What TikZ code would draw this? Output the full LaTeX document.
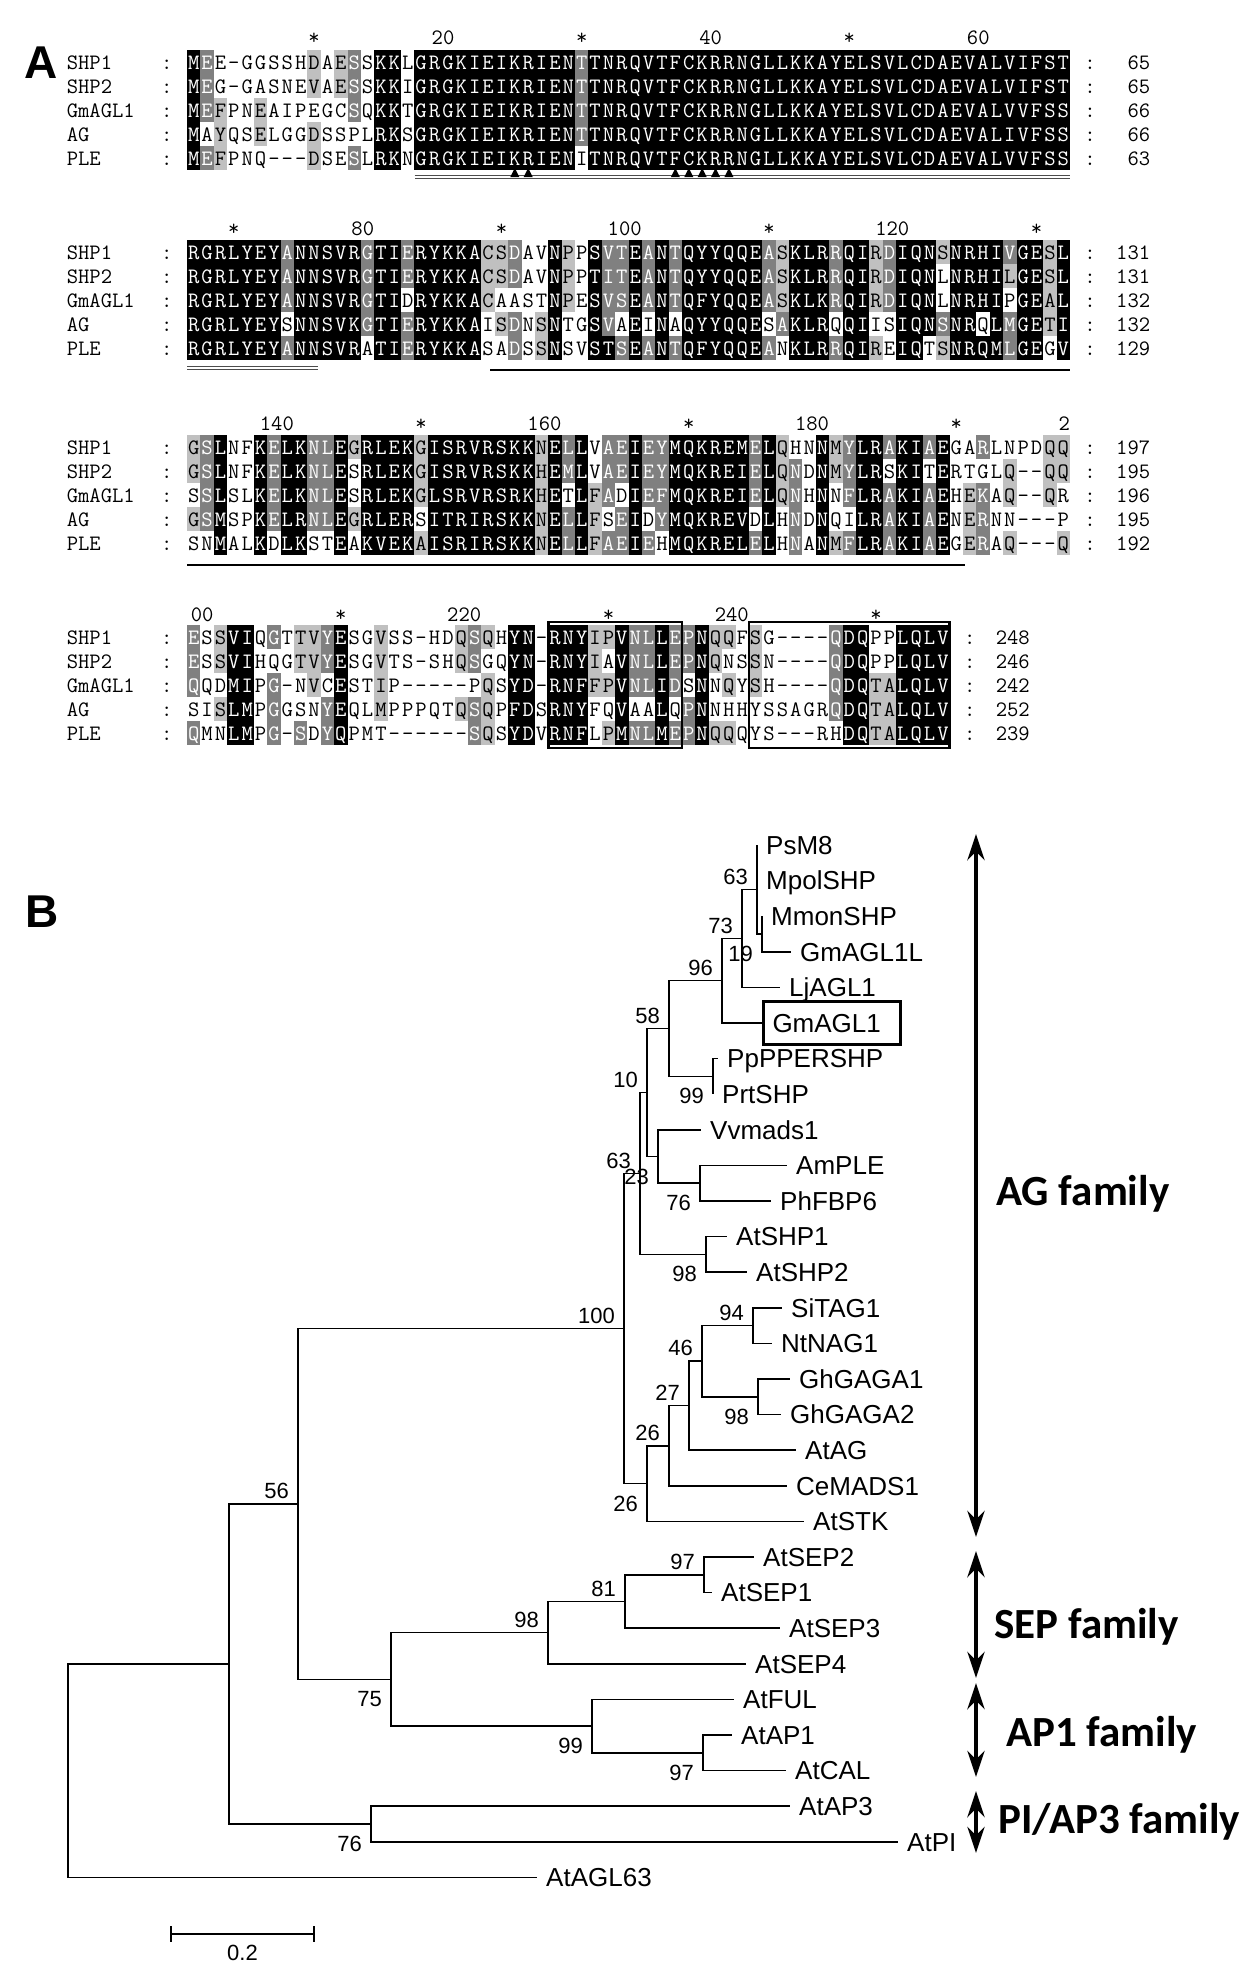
\documentclass[tikz,border=0pt]{standalone}
\usepackage{fontspec}
\newfontfamily\treefont{Liberation Sans}
\newfontfamily\famfont{Carlito}
\usetikzlibrary{arrows.meta,calc}
\definecolor{dgray}{RGB}{128,128,128}
\definecolor{lgray}{RGB}{192,192,192}

\tikzset{
  alntxt/.style={font=\ttfamily\fontsize{22}{22}\selectfont, inner sep=0pt, text height=14pt, text depth=0pt},
  res/.style={alntxt},
  resk/.style={text=white}, resd/.style={text=white},
  resl/.style={text=black}, resw/.style={text=black},
  shk/.style={fill=black}, shd/.style={fill=dgray}, shl/.style={fill=lgray}, shw/.style={},
  branch/.style={line width=1.5pt},
  leaf/.style={anchor=west, font=\treefont\fontsize{26}{26}\selectfont, inner xsep=9pt, inner ysep=0pt, text height=18.6pt, text depth=0pt},
  bsa/.style={anchor=south east, inner sep=0pt, xshift=-9pt, yshift=5pt, font=\treefont\fontsize{22}{22}\selectfont},
  bsb/.style={anchor=north east, inner sep=0pt, xshift=-9pt, yshift=-12pt, font=\treefont\fontsize{22}{22}\selectfont},
  family/.style={anchor=base west, inner sep=0pt, font=\famfont\bfseries\fontsize{43}{43}\selectfont},
  famarrow/.style={line width=4.5pt, {Stealth[length=26pt,width=17pt]}-{Stealth[length=26pt,width=17pt]}},
  panel/.style={inner sep=0pt, font=\treefont\bfseries\fontsize{46}{46}\selectfont}
}

% one alignment row: y, name, residues, shading (k d l w), columns, count
\newcount\rescol
\def\alnstep#1#2\relax#3#4\relax{%
  \path[sh#3] ({187+\the\rescol*13.38},\alny-12) rectangle ++(13.38,24);%
  \node[res, res#3] at ({187+(\the\rescol+0.5)*13.38},\alny) {#1};%
  \global\advance\rescol by 1
  \if\relax\detokenize{#2}\relax\else\alnstep#2\relax#4\relax\fi}
\newcommand\alnrow[6]{%
  \node[alntxt, anchor=west] at (66.6,#1) {#2};
  \node[alntxt] at (166.9,#1) {:};
  \node[alntxt] at ({187+(#5+1.5)*13.38},#1) {:};
  \node[alntxt, anchor=east] at ({187+(#5+6)*13.38},#1) {#6};
  \global\rescol=0
  \def\alny{#1}%
  \alnstep#3\relax#4\relax}
\newcommand\rulstar[2]{\node[alntxt] at ({187+(#2-0.5)*13.38},#1) {*};}
\newcommand\rulnum[3]{\node[alntxt, anchor=east] at ({187+#2*13.38},#1) {#3};}

\begin{document}
\begin{tikzpicture}[x=1pt, y=-1pt, >=Stealth]
\useasboundingbox (0,0) rectangle (1257,1979);

% ---------------- A: alignment
\node[panel] (pA) at (41,63) {A};

\rulstar{37}{10} \rulnum{37}{20}{20} \rulstar{37}{30} \rulnum{37}{40}{40} \rulstar{37}{50} \rulnum{37}{60}{60}
\alnrow{62}{SHP1}{MEE-GGSSHD AESSKKLGRG KIEIKRIENT TNRQVTFCKR RNGLLKKAYE LSVLCDAEVA LVIFST}{kdwwwwwwwl wldwkkwkkk kkkkkkkkkd kkkkkkkkkk kkkkkkkkkk kkkkkkkkkk kkkkkk}{66}{65}
\alnrow{86}{SHP2}{MEG-GASNEV AESSKKIGRG KIEIKRIENT TNRQVTFCKR RNGLLKKAYE LSVLCDAEVA LVIFST}{kdwwwwwwwl wldwkkwkkk kkkkkkkkkd kkkkkkkkkk kkkkkkkkkk kkkkkkkkkk kkkkkk}{66}{65}
\alnrow{110}{GmAGL1}{MEFPNEAIPE GCSQKKTGRG KIEIKRIENT TNRQVTFCKR RNGLLKKAYE LSVLCDAEVA LVVFSS}{kdlwwlwwww wwdwkkwkkk kkkkkkkkkd kkkkkkkkkk kkkkkkkkkk kkkkkkkkkk kkkkkk}{66}{66}
\alnrow{134}{AG}{MAYQSELGGD SSPLRKSGRG KIEIKRIENT TNRQVTFCKR RNGLLKKAYE LSVLCDAEVA LIVFSS}{kwlwwlwwwl wwwwkkwkkk kkkkkkkkkd kkkkkkkkkk kkkkkkkkkk kkkkkkkkkk kkkkkk}{66}{66}
\alnrow{158}{PLE}{MEFPNQ---D SESLRKNGRG KIEIKRIENI TNRQVTFCKR RNGLLKKAYE LSVLCDAEVA LVVFSS}{kdlwwwwwwl wwdwkkwkkk kkkkkkkkkw kkkkkkkkkk kkkkkkkkkk kkkkkkkkkk kkkkkk}{66}{63}
\draw[gray!60!black, line width=1pt, double=white, double distance=2pt] (414.5,176.5) -- (1070,176.5);
\foreach \c in {25,26,37,38,39,40,41}
  \fill ({187+(\c-0.5)*13.38-4.5},177) -- ++(9,0) -- ++(-4.5,-9) -- cycle;

\rulstar{228}{4} \rulnum{228}{14}{80} \rulstar{228}{24} \rulnum{228}{34}{100} \rulstar{228}{44} \rulnum{228}{54}{120} \rulstar{228}{64}
\alnrow{252}{SHP1}{RGRLYEYANN SVRGTIERYK KACSDAVNPP SVTEANTQYY QQEASKLRRQ IRDIQNSNRH IVGESL}{kkkkkkkdkk kkkdkkdkkk kklldwwklw kddkdkdkkk kkkdlkkkdk kldkkklkkk kdkklk}{66}{131}
\alnrow{276}{SHP2}{RGRLYEYANN SVRGTIERYK KACSDAVNPP TITEANTQYY QQEASKLRRQ IRDIQNLNRH ILGESL}{kkkkkkkdkk kkkdkkdkkk kklldwwklw kddkdkdkkk kkkdlkkkdk kldkkkwkkk klkklk}{66}{131}
\alnrow{300}{GmAGL1}{RGRLYEYANN SVRGTIDRYK KACAASTNPE SVSEANTQFY QQEASKLKRQ IRDIQNLNRH IPGEAL}{kkkkkkkdkk kkkdkkwkkk kklwwwwklw kddkdkdkkk kkkdlkkkdk kldkkkwkkk kwkklk}{66}{132}
\alnrow{324}{AG}{RGRLYEYSNN SVKGTIERYK KAISDNSNTG SVAEINAQYY QQESAKLRQQ IISIQNSNRQ LMGETI}{kkkkkkkwkk kkkdkkdkkk kkwldwlkww kdwkwkwkkk kkkwdkkkwk kwwkkkdkkw kdkklk}{66}{132}
\alnrow{348}{PLE}{RGRLYEYANN SVRATIERYK KASADSSNSV STSEANTQFY QQEANKLRRQ IREIQTSNRQ MLGEGV}{kkkkkkkdkk kkkwkkdkkk kkwwdwlkww kkdkdkdkkk kkkdwkkkdk klwkkwlkkk kdkkwk}{66}{129}
\draw[gray!60!black, line width=1pt, double=white, double distance=2pt] (187,368) -- (318,368);
\draw[line width=2pt] (490,370) -- (1070,370);

\rulnum{423}{8}{140} \rulstar{423}{18} \rulnum{423}{28}{160} \rulstar{423}{38} \rulnum{423}{48}{180} \rulstar{423}{58} \rulnum{423}{66}{2}
\alnrow{447}{SHP1}{GSLNFKELKN LEGRLEKGIS RVRSKKNELL VAEIEYMQKR EMELQHNNMY LRAKIAEGAR LNPDQQ}{ldkwwkdkkd dklkkkklkk kkkkkklkdk wddkddkkkk kkdklwwkld kkdkkdkwwd wwwwll}{66}{197}
\alnrow{471}{SHP2}{GSLNFKELKN LESRLEKGIS RVRSKKHEML VAEIEYMQKR EIELQNDNMY LRSKITERTG LQ--QQ}{ldkwwkdkkd dkwkkkklkk kkkkkklkdk wddkddkkkk kkdkldwkld kkwkkwkwww wlwwll}{66}{195}
\alnrow{495}{GmAGL1}{SSLSLKELKN LESRLEKGLS RVRSRKHETL FADIEFMQKR EIELQNHNNF LRAKIAEHEK AQ--QR}{wdkwwkdkkd dkwkkkklkk kkkkkklkwk ldwkddkkkk kkdkldwkwd kkdkkdkwld wlwwlw}{66}{196}
\alnrow{519}{AG}{GSMSPKELRN LEGRLERSIT RIRSKKNELL FSEIDYMQKR EVDLHNDNQI LRAKIAENER NN---P}{ldkwwkdkkd dklkkkkwkk kkkkkklkdk lwdkwdkkkk kkwkwdwkww kkdkkdkwld wwwwww}{66}{195}
\alnrow{543}{PLE}{SNMALKDLKS TEAKVEKAIS RIRSKKNELL FAEIEHMQKR ELELHNANMF LRAKIAEGER AQ---Q}{wwkwwkwkkw wkwkkkklkk kkkkkklkdk lddkdwkkkk kkdkwdwkld kkdkkdkwld wlwwwl}{66}{192}
\draw[line width=2pt] (187,565) -- (965,565);

\rulnum{614}{2}{00} \rulstar{614}{12} \rulnum{614}{22}{220} \rulstar{614}{32} \rulnum{614}{42}{240} \rulstar{614}{52}
\alnrow{637}{SHP1}{ESSVIQGTTV YESGVSS-HD QSQHYN-RNY IPVNLLEPNQ QFSG----QD QPPLQLV}{dwlkkwdwll dkwwlwwwww ldlwkkwkkk llkddkddkl lwlwwwwwdk kwwkkkk}{57}{248}
\alnrow{661}{SHP2}{ESSVIHQGTV YESGVTS-SH QSGQYN-RNY IAVNLLEPNQ NSSN----QD QPPLQLV}{dwlkkwwwll dkwwlwwwww ldwwkkwkkk lwkddkddkl wwlwwwwwdk kwwkkkk}{57}{246}
\alnrow{685}{GmAGL1}{QQDMIPG-NV CESTIP---- -PQSYD-RNF FPVNLIDSNN QYSH----QD QTALQLV}{dwwkkwdwwl wkwwlwwwww wwlwkkwkkk llkddkdwkw lwlwwwwwdk kllkkkk}{57}{242}
\alnrow{709}{AG}{SISLMPGGSN YEQLMPPPQT QSQPFDSRNY FQVAALQPNN HHYSSAGRQD QTALQLV}{wwlkkwdwww dkwwlwwwww ldlwkkwkkk wwkwwkwdkw wwwwwwwwdk kllkkkk}{57}{252}
\alnrow{733}{PLE}{QMNLMPG-SD YQPMT----- -SQSYDVRNF LPMNLMEPNQ QQYS---RHD QTALQLV}{dwwkkwdwdw dkwwwwwwww wdlwkkwkkk wlkddkddkl lwwwwwwwwk kllkkkk}{57}{239}
\draw[line width=2.5pt] (548.3,622) rectangle (682.1,748);
\draw[line width=2.5pt] (749.0,622) rectangle (949.7,748);

% ---------------- B: tree
\node[panel] (pB) at (42,912) {B};

\coordinate (root) at (68,1770.7);
\coordinate (nA) at (229,1664);
\coordinate (nB) at (298,1504);
\coordinate (nAG) at (624,1328.5);
\coordinate (nU) at (640,1173.5);
\coordinate (n10) at (647,1092.5);
\coordinate (n58) at (669,1028.5);
\coordinate (n96) at (722,980.7);
\coordinate (n73) at (742,938.5);
\coordinate (nPM) at (757,889.5);
\coordinate (n19) at (762,934);
\coordinate (n99p) at (713,1076.4);
\coordinate (n23) at (658,1156.5);
\coordinate (n76) at (700,1183.2);
\coordinate (nSHP) at (706,1254.4);
\coordinate (n26b) at (647,1483.6);
\coordinate (n26a) at (669,1445.8);
\coordinate (n27) at (689,1405.7);
\coordinate (n46) at (702,1361.2);
\coordinate (n94) at (753,1325.6);
\coordinate (n98g) at (758,1396.8);
\coordinate (nSA) at (391,1679.4);
\coordinate (nSEP) at (548,1632.6);
\coordinate (nSEP123) at (625,1601.5);
\coordinate (nSEP12) at (704,1574.8);
\coordinate (nAP1) at (592,1726.1);
\coordinate (nAPC) at (703,1752.8);
\coordinate (nPI) at (371,1824);

\node[leaf] (PsM8) at (757,845) {PsM8};
\node[leaf] (MpolSHP) at (757,880.6) {MpolSHP};
\node[leaf] (MmonSHP) at (762,916.2) {MmonSHP};
\node[leaf] (GmAGL1L) at (791,951.8) {GmAGL1L};
\node[leaf] (LjAGL1) at (780,987.4) {LjAGL1};
\node[leaf, draw, line width=3pt, text width=119pt, minimum height=43pt] (GmAGL1) at (762,1023) {GmAGL1};
\node[leaf] (PpPPERSHP) at (718,1058.6) {PpPPERSHP};
\node[leaf] (PrtSHP) at (713,1094.2) {PrtSHP};
\node[leaf] (Vvmads1) at (701,1129.8) {Vvmads1};
\node[leaf] (AmPLE) at (787,1165.4) {AmPLE};
\node[leaf] (PhFBP6) at (771,1201) {PhFBP6};
\node[leaf] (AtSHP1) at (727,1236.6) {AtSHP1};
\node[leaf] (AtSHP2) at (747,1272.2) {AtSHP2};
\node[leaf] (SiTAG1) at (782,1307.8) {SiTAG1};
\node[leaf] (NtNAG1) at (772,1343.4) {NtNAG1};
\node[leaf] (GhGAGA1) at (790,1379) {GhGAGA1};
\node[leaf] (GhGAGA2) at (781,1414.6) {GhGAGA2};
\node[leaf] (AtAG) at (796,1450.2) {AtAG};
\node[leaf] (CeMADS1) at (787,1485.8) {CeMADS1};
\node[leaf] (AtSTK) at (804,1521.4) {AtSTK};
\node[leaf] (AtSEP2) at (754,1557) {AtSEP2};
\node[leaf] (AtSEP1) at (712,1592.6) {AtSEP1};
\node[leaf] (AtSEP3) at (780,1628.2) {AtSEP3};
\node[leaf] (AtSEP4) at (746,1663.8) {AtSEP4};
\node[leaf] (AtFUL) at (734,1699.4) {AtFUL};
\node[leaf] (AtAP1) at (732,1735) {AtAP1};
\node[leaf] (AtCAL) at (786,1770.6) {AtCAL};
\node[leaf] (AtAP3) at (790,1806.2) {AtAP3};
\node[leaf] (AtPI) at (898,1841.8) {AtPI};
\node[leaf] (AtAGL63) at (537,1877.4) {AtAGL63};

\foreach \a/\b in {root/nA, root/AtAGL63, nA/nB, nA/nPI, nB/nAG, nB/nSA,
    nAG/nU, nAG/n26b, nU/n10, nU/nSHP, n10/n58, n10/n23, n58/n96, n58/n99p,
    n96/n73, n96/GmAGL1, n73/nPM, n73/LjAGL1, nPM/PsM8, nPM/MpolSHP, nPM/n19,
    n19/MmonSHP, n19/GmAGL1L, n99p/PpPPERSHP, n99p/PrtSHP, n23/Vvmads1, n23/n76,
    n76/AmPLE, n76/PhFBP6, nSHP/AtSHP1, nSHP/AtSHP2, n26b/n26a, n26b/AtSTK,
    n26a/n27, n26a/CeMADS1, n27/n46, n27/AtAG, n46/n94, n46/n98g,
    n94/SiTAG1, n94/NtNAG1, n98g/GhGAGA1, n98g/GhGAGA2,
    nSA/nSEP, nSA/nAP1, nSEP/nSEP123, nSEP/AtSEP4, nSEP123/nSEP12, nSEP123/AtSEP3,
    nSEP12/AtSEP2, nSEP12/AtSEP1, nAP1/AtFUL, nAP1/nAPC, nAPC/AtAP1, nAPC/AtCAL,
    nPI/AtAP3, nPI/AtPI}
  \draw[branch] (\a) |- (\b);

% bootstrap values
\node[bsa] (bPM) at (nPM) {63};
\node[bsa] (b73) at (n73) {73};
\node[bsb] (b19) at (n19) {19};
\node[bsa] (b96) at (n96) {96};
\node[bsa] (b58) at (n58) {58};
\node[bsa] (b10) at (n10) {10};
\node[bsb] (b99p) at (n99p) {99};
\node[bsa] (bU) at (nU) {63};
\node[bsb] (b23) at (n23) {23};
\node[bsb] (b76) at (n76) {76};
\node[bsb] (bSHP) at (nSHP) {98};
\node[bsa] (bAG) at (nAG) {100};
\node[bsa] (b94) at (n94) {94};
\node[bsa] (b46) at (n46) {46};
\node[bsb] (b98g) at (n98g) {98};
\node[bsa] (b27) at (n27) {27};
\node[bsa] (b26a) at (n26a) {26};
\node[bsb] (b26b) at (n26b) {26};
\node[bsa] (bB) at (nB) {56};
\node[bsa] (bSEP12) at (nSEP12) {97};
\node[bsa] (bSEP123) at (nSEP123) {81};
\node[bsa] (bSEP) at (nSEP) {98};
\node[bsb] (bSA) at (nSA) {75};
\node[bsb] (bAP1) at (nAP1) {99};
\node[bsb] (bAPC) at (nAPC) {97};
\node[bsb] (bPI) at (nPI) {76};

% families
\coordinate (agT) at (976,834);   \coordinate (agB) at (976,1537);
\coordinate (sepT) at (976,1551); \coordinate (sepB) at (976,1678);
\coordinate (apT) at (976,1683);  \coordinate (apB) at (976,1777);
\coordinate (piT) at (976,1791);  \coordinate (piB) at (976,1853);
\draw[famarrow] (agT) -- (agB);
\draw[famarrow] (sepT) -- (sepB);
\draw[famarrow] (apT) -- (apB);
\draw[famarrow] (piT) -- (piB);
\node[family] (fAG) at (996,1205) {AG family};
\node[family] (fSEP) at (994,1638) {SEP family};
\node[family] (fAP) at (1006,1746) {AP1 family};
\node[family] (fPI) at (998,1833) {PI/AP3 family};

% scale bar
\coordinate (sbL) at (171,1934);
\coordinate (sbR) at (314,1934);
\draw[line width=2.5pt] (sbL) -- (sbR);
\draw[line width=2.5pt] ([yshift=8pt]sbL) -- ([yshift=-8pt]sbL);
\draw[line width=2.5pt] ([yshift=8pt]sbR) -- ([yshift=-8pt]sbR);
\node[font=\treefont\fontsize{22}{22}\selectfont, below=8pt] (sbT) at ($(sbL)!0.5!(sbR)$) {0.2};
\end{tikzpicture}
\end{document}
